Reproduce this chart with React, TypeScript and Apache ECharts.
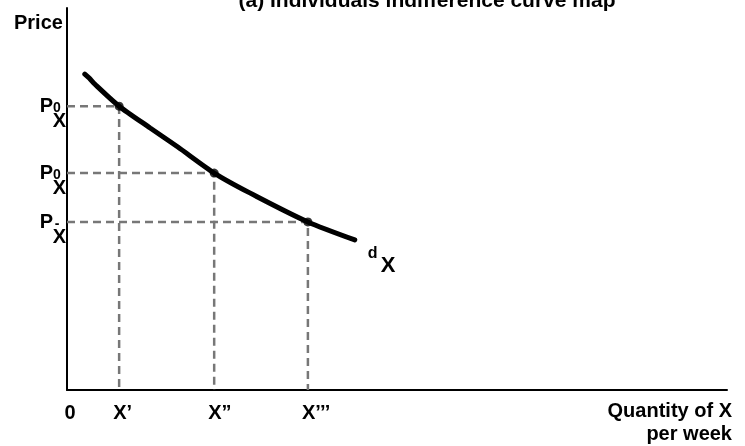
import { useEffect, useRef } from "react";
import * as echarts from "echarts";

const FONT = '"Liberation Sans", Arial, Helvetica, sans-serif';

// Demand curve d_X: quantity of X per week against price
const curveQty = [2.7, 3.4, 4.2, 7.9, 12.6, 16.8, 22.3, 27.7, 36.5, 43.6];
const curvePrice = [82.7, 81.6, 80.1, 74.3, 68.6, 63.6, 56.8, 51.6, 44.0, 39.3];

// Price / quantity pairs picked out on the curve
const pointQty = [7.9, 22.3, 36.5];
const pointPrice = [74.3, 56.8, 44.0];
const qtyLabels = ["X’", "X”", "X’’’"];
const priceSup = ["0", "0", "-"];

const titleText = "(a) Individuals indifference curve map";

export default function App() {
  const ref = useRef<HTMLDivElement>(null);

  useEffect(() => {
    if (!ref.current) return;
    const chart = echarts.init(ref.current, undefined, { renderer: "svg" });

    const dashed = pointQty.map((q, i) => ({
      type: "line",
      data: [
        [0, pointPrice[i]],
        [q, pointPrice[i]],
        [q, 0],
      ],
      symbol: "none",
      lineStyle: { color: "#777", width: 2.5, type: [8, 5] },
      z: 1,
      silent: true,
    }));

    chart.setOption({
      animation: false,
      grid: { left: 67, right: 18, top: 8, bottom: 56, containLabel: false },
      xAxis: {
        type: "value",
        min: 0,
        max: 100,
        axisLine: { show: true, lineStyle: { color: "#000", width: 2 } },
        axisTick: { show: false },
        axisLabel: { show: false },
        splitLine: { show: false },
      },
      yAxis: {
        type: "value",
        min: 0,
        max: 100,
        axisLine: { show: true, lineStyle: { color: "#000", width: 2 } },
        axisTick: { show: false },
        axisLabel: { show: false },
        splitLine: { show: false },
      },
      series: [
        ...dashed,
        {
          type: "line",
          name: "dX",
          data: curveQty.map((q, i) => [q, curvePrice[i]]),
          smooth: 0.25,
          symbol: "none",
          lineStyle: { color: "#000", width: 5, cap: "round" },
          z: 3,
        },
        {
          type: "scatter",
          data: pointQty.map((q, i) => [q, pointPrice[i]]),
          symbol: "circle",
          symbolSize: 9,
          itemStyle: { color: "#000" },
          z: 4,
        },
      ],
    });

    const px = (v: number[]) => chart.convertToPixel({ gridIndex: 0 }, v) as number[];
    const bold = (size: number) => ({ fontFamily: FONT, fontWeight: "bold", fontSize: size, fill: "#000" });
    const origin = px([0, 0]);
    const elements: any[] = [
      {
        type: "text",
        x: 427,
        y: -1,
        style: { ...bold(21), text: titleText, align: "center", verticalAlign: "middle" },
      },
      {
        type: "text",
        x: 14,
        y: 22,
        style: { ...bold(20), text: "Price", align: "left", verticalAlign: "middle" },
      },
      {
        type: "text",
        x: origin[0] + 3,
        y: origin[1] + 22,
        style: { ...bold(20), text: "0", align: "center", verticalAlign: "middle" },
      },
      {
        type: "text",
        x: 732,
        y: 410,
        style: { ...bold(20), text: "Quantity of X", align: "right", verticalAlign: "middle" },
      },
      {
        type: "text",
        x: 732,
        y: 433,
        style: { ...bold(20), text: "per week", align: "right", verticalAlign: "middle" },
      },
    ];

    pointPrice.forEach((p, i) => {
      const [ax, ay] = px([0, p]);
      elements.push(
        { type: "text", x: ax - 14, y: ay - 1, style: { ...bold(20), text: "P", align: "right", verticalAlign: "middle" } },
        { type: "text", x: ax - 10, y: ay + 1, style: { ...bold(14), text: priceSup[i], align: "center", verticalAlign: "middle" } },
        { type: "text", x: ax - 1, y: ay + 14, style: { ...bold(20), text: "X", align: "right", verticalAlign: "middle" } }
      );
    });

    pointQty.forEach((q, i) => {
      const [bx, by] = px([q, 0]);
      elements.push({
        type: "text",
        x: bx - 6,
        y: by + 22,
        style: { ...bold(20), text: qtyLabels[i], align: "left", verticalAlign: "middle" },
      });
    });

    const end = px([curveQty[curveQty.length - 1], curvePrice[curvePrice.length - 1]]);
    elements.push(
      { type: "text", x: end[0] + 13, y: end[1] + 13, style: { ...bold(16), text: "d", align: "left", verticalAlign: "middle" } },
      { type: "text", x: end[0] + 26, y: end[1] + 25, style: { ...bold(22), text: "X", align: "left", verticalAlign: "middle" } }
    );

    chart.setOption({ graphic: { elements } });

    return () => chart.dispose();
  }, []);

  return <div ref={ref} style={{ width: 745, height: 446, position: "fixed", left: 0, top: 0 }} />;
}
